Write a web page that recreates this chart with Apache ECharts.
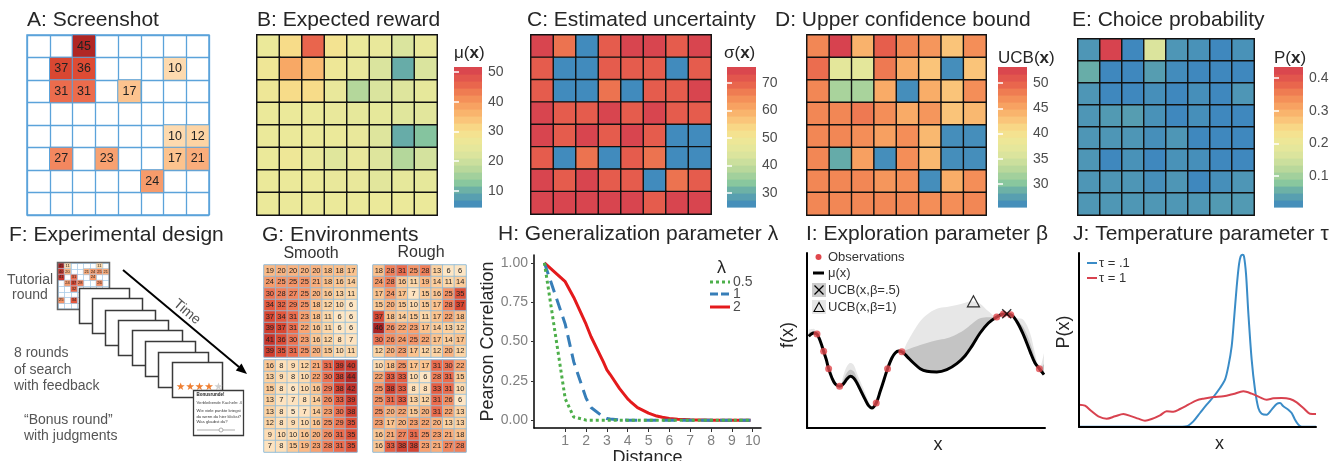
<!DOCTYPE html>
<html>
<head>
<meta charset="utf-8">
<script src="https://cdn.jsdelivr.net/npm/echarts@6.0.0/dist/echarts.min.js"></script>
<style>html,body{margin:0;padding:0;background:#fff;}#chart{width:1334px;height:461px;}</style>
</head>
<body>
<div id="chart"></div>
<script>
// ================= DATA =================
const gridCats = ['1','2','3','4','5','6','7','8'];
// A: revealed tiles [row, col, reward]
const screenshotTiles = [[0,2,45],[1,1,37],[1,2,36],[1,6,10],[2,1,31],[2,2,31],[2,4,17],[4,6,10],[4,7,12],[5,1,27],[5,3,23],[5,6,17],[5,7,21],[6,5,24]];
// B: expected reward mu(x)
const expectedReward = [
  [26,31,46,29,26,25.5,22,25.5],
  [27.5,38,35.5,27,25.5,22,10,22],
  [27,31,31,25.5,17,22,23,25],
  [26,26,26,25.5,25,25,23.5,24],
  [26,26,26,26,25.5,23,10,12.5],
  [26,27,25.5,23.5,25.5,23,17,21],
  [26,26,26,25.5,25.5,24,25,25],
  [26,26,26,26,26,26,26,26]];
// C: estimated uncertainty sigma(x)
const uncertainty = [
  [75,68,25.5,71,75,75,71,75],
  [71,25.5,25.5,71,71,71,25.5,71],
  [71,25.5,25.5,68,25.5,71,71,75],
  [75,71,71,75,71,75,71,71],
  [75,71,75,71,75,71,25.5,25.5],
  [71,25.5,68,25.5,71,68,25.5,25.5],
  [75,71,75,71,71,25.5,68,71],
  [75,75,75,75,75,71,75,75]];
// D: upper confidence bound
const ucbValues = [
  [47.6,53,44.3,50.4,47.6,46.5,42.9,47.1],
  [49.3,37.1,37.1,48.5,44.7,42.9,26,42.9],
  [47.6,32.1,32.1,44.9,26,44.7,42.9,47.1],
  [47.6,47.6,48.5,47.1,44.9,46.5,42.9,43.8],
  [47.6,47.6,47.1,45.7,47.1,43.8,26,26],
  [47.6,28.5,45.7,26,47.1,43.8,26,26],
  [47.6,47.6,47.6,46.5,47.1,26,44.7,47.1],
  [47.6,47.6,47.6,47.6,47.6,47.1,47.1,47.6]];
// E: choice probability
const choiceProb = [
  [0.025,0.43,0.007,0.165,0.025,0.02,0.007,0.02],
  [0.055,0.007,0.007,0.035,0.012,0.007,0.007,0.007],
  [0.025,0.007,0.007,0.016,0.007,0.016,0.007,0.025],
  [0.025,0.03,0.035,0.02,0.007,0.016,0.007,0.007],
  [0.025,0.025,0.025,0.016,0.025,0.007,0.007,0.007],
  [0.025,0.007,0.02,0.007,0.02,0.016,0.007,0.007],
  [0.025,0.025,0.025,0.016,0.025,0.007,0.016,0.025],
  [0.027,0.027,0.027,0.027,0.027,0.027,0.03,0.03]];
// colour-bar ranges and ticks
const rangeB = [4.6, 51.7], ticksB = [10,20,30,40,50];
const rangeC = [24.9, 75.8], ticksC = [30,40,50,60,70];
const rangeD = [25.4, 53.2], ticksD = [30,35,40,45,50];
const rangeE = [0.005, 0.434], ticksE = [0.1,0.2,0.3,0.4];
// F: tutorial thumbnail tiles [row, col, reward]
const tutorialTiles = [[0,0,45],[0,1,11],[0,6,11],[1,0,40],[1,1,20],[1,4,21],[1,5,24],[1,6,25],[1,7,21],[2,0,41],[2,2,31],[2,5,24],[3,1,24],[3,2,37],[3,3,28],[3,6,26],[4,2,32],[6,0,25],[6,2,34]];
// G: environments
const smoothEnv1 = [
  [19,20,20,20,20,18,18,17],[24,25,25,25,21,18,16,14],[30,28,27,25,20,16,13,11],[34,32,29,25,18,12,10,6],
  [37,34,31,23,18,11,6,6],[39,37,31,22,16,11,6,6],[41,36,30,23,16,12,8,7],[39,35,31,25,20,15,10,11]];
const roughEnv1 = [
  [18,28,31,25,28,13,6,6],[24,28,16,11,19,14,11,14],[17,24,17,7,15,16,25,35],[15,20,15,10,15,17,28,37],
  [37,18,14,15,11,17,22,18],[46,26,22,23,17,14,13,12],[30,26,24,25,22,17,14,17],[12,20,23,17,12,12,20,12]];
const smoothEnv2 = [
  [16,8,9,12,21,31,39,40],[13,9,8,10,22,30,38,44],[15,8,6,10,16,29,38,42],[13,7,7,8,14,26,33,39],
  [13,8,5,7,14,23,30,38],[12,8,9,10,16,25,29,35],[9,10,10,16,20,26,31,35],[7,8,15,19,23,28,31,35]];
const roughEnv2 = [
  [10,18,25,17,17,31,30,22],[22,33,33,10,6,28,31,15],[25,38,33,8,8,33,31,10],[25,31,33,13,12,31,26,6],
  [25,20,22,15,20,31,22,13],[23,17,20,23,22,20,13,13],[16,21,27,31,25,23,21,18],[16,33,38,38,23,21,27,28]];
// H: generalization
const distance = [0,1,1.41,2,2.24,2.83,3,3.16,3.61,4,4.12,4.47,5,5.39,5.66,6,6.4,6.71,7,7.28,7.62,8.06,8.49,8.6,9.22,9.9];
const corrLambda05 = [1,0.135,0.02,0,0,0,0,0,0,0,0,0,0,0,0,0,0,0,0,0,0,0,0,0,0,0];
const corrLambda1 = [1,0.61,0.37,0.14,0.08,0.02,0.01,0.007,0.002,0,0,0,0,0,0,0,0,0,0,0,0,0,0,0,0,0];
const corrLambda2 = [1,0.88,0.78,0.61,0.53,0.37,0.32,0.29,0.2,0.135,0.12,0.08,0.045,0.026,0.018,0.011,0.006,0.004,0.002,0.001,0.001,0,0,0,0,0];
const distTicks = [1,2,3,4,5,6,7,8,9,10];
const corrTicks = [0,0.25,0.5,0.75,1];
// I: exploration (arbitrary units)
const gpX =    [5,20,30,40,50,58,65,75,85,98,110,120,130,140,150,160,175,185,195,208,220,232,242,255,265,275,285,300,320,340,360,390,420,450,475,495,520,545,570,590,612,630,650,670,685,698,712];
const gpMu =   [275,285,282,260,230,205,178,150,132,125,133,147,155,150,135,115,85,67,60,75,110,147,178,210,225,231,229,215,195,178,170,168,175,193,217,245,285,315,333,342,340,320,280,230,195,178,160];
const gpUcb1 = [295,298,282,264,230,207,178,155,137,125,160,185,195,190,165,140,105,80,65,75,113,149,178,214,228,232,229,255,290,320,340,358,363,369,376,380,373,350,333,342,340,330,325,285,225,178,225];
const gpUcb05 =[285,291,282,262,230,206,178,152,134,125,146,166,175,170,150,128,95,73,62,75,111,148,178,212,226,231,229,235,242,249,255,263,269,281,296,312,329,332,333,342,340,325,302,257,210,178,192];
const obsX = [30,50,65,98,208,242,285,570,590,612,698];
const obsY = [282,230,178,125,75,178,229,333,342,340,178];
const ucb1Max = [500,380];
const ucb05Max = [600,343];
// J: temperature (arbitrary units)
const tau01X = [0,40,80,120,160,200,240,270,295,310,323,343,363,383,403,423,438,448,458,465,473,480,485,491,495,501,508,518,528,538,548,563,578,593,603,613,628,638,648,658,668,680,695,711];
const tau01Y = [1,1,1,1,1,1,1,1,1,1,2,17,42,67,90,117,142,182,242,322,420,488,512,517,512,460,342,202,112,57,40,37,52,69,72,62,52,42,22,7,1,1,1,1];
const tau1X = [0,18,38,58,83,108,133,158,178,198,218,243,263,283,303,328,353,373,403,433,463,493,518,543,563,583,608,633,653,673,693,711];
const tau1Y = [67,64,47,32,25,32,39,32,25,19,24,35,47,46,54,67,80,85,90,92,99,107,100,89,82,86,87,84,74,57,40,39];

// ================= HELPERS =================
const FONT = '"Liberation Sans", Arial, Helvetica, sans-serif';
const PAL = [[0,'#3d87bf'],[0.11,'#64aaa9'],[0.18,'#8cc99d'],[0.265,'#b5d79b'],[0.36,'#d8e39e'],[0.456,'#ebe99a'],[0.55,'#f7e08c'],[0.62,'#fac77b'],[0.695,'#f9ad68'],[0.79,'#f38b56'],[0.885,'#e8624c'],[1,'#d6404f']];
const ORRD = [[0,'#fff1dc'],[6,'#fee6c4'],[12,'#fdd4a4'],[18,'#fcbf8a'],[24,'#f79b6b'],[30,'#ef7352'],[36,'#de4b34'],[42,'#c1302a'],[48,'#9e1d1f']];
function hex2rgb(h){return [1,3,5].map(i=>parseInt(h.substr(i,2),16));}
function ramp(stops, v){
  if (v <= stops[0][0]) return stops[0][1];
  for (let i = 1; i < stops.length; i++) {
    if (v <= stops[i][0]) {
      const a = stops[i-1][0], b = stops[i][0];
      const f = (v - a) / (b - a);
      const x = hex2rgb(stops[i-1][1]), y = hex2rgb(stops[i][1]);
      return 'rgb(' + x.map((c,k)=>Math.round(c + (y[k]-c)*f)).join(',') + ')';
    }
  }
  return stops[stops.length-1][1];
}
const spectral = (r) => (v) => ramp(PAL, (v - r[0]) / (r[1] - r[0]));
const orrd = (v) => ramp(ORRD, v);

const grids = [], xAxes = [], yAxes = [], series = [], gfx = [];
function addGrid(g){ grids.push(Object.assign({outerBoundsMode:'none', containLabel:false}, g)); return grids.length - 1; }
function addX(a){ xAxes.push(a); return xAxes.length - 1; }
function addY(a){ yAxes.push(a); return yAxes.length - 1; }

function heatPanel(box, data, opt) {
  const gi = addGrid({left:box[0], top:box[1], width:box[2], height:box[3], show:true, borderColor:opt.border, borderWidth:opt.borderW, backgroundColor:'#fff'});
  const catAxis = {gridIndex:gi, type:'category', data:gridCats, axisLine:{show:false}, axisTick:{show:false}, axisLabel:{show:false},
    splitLine:{show:!!opt.split, interval:0, lineStyle:{color:opt.split || '#000', width:opt.splitW || 1}}};
  const xi = addX(Object.assign({}, catAxis));
  const yi = addY(Object.assign({inverse:true}, catAxis));
  series.push({type:'heatmap', xAxisIndex:xi, yAxisIndex:yi, data, silent:true,
    itemStyle:{borderColor:opt.cellBorder, borderWidth:opt.cellBorderW},
    label: opt.label ? {show:true, formatter:p=>p.value[2], fontSize:opt.label, color:'#222', fontFamily:FONT} : {show:false},
    z: opt.z || 2});
}
function matrixData(mat, colorFn){
  const out = [];
  mat.forEach((row, r) => row.forEach((v, c) => out.push({value:[c, r, v], itemStyle:{color:colorFn(v)}})));
  return out;
}
function tileData(tiles, colorFn){
  return tiles.map(t => ({value:[t[1], t[0], t[2]], itemStyle:{color:colorFn(t[2])}}));
}
function colorbar(box, range, ticks, fmt){
  const gi = addGrid({left:box[0], top:box[1], width:box[2], height:box[3]});
  const xi = addX({type:'value', gridIndex:gi, min:0, max:1, show:false});
  const tick = {show:true, inside:true, length:5, customValues:ticks, lineStyle:{color:'#fff', width:1.5}};
  const yr = addY({type:'value', gridIndex:gi, min:range[0], max:range[1], position:'right', z:5,
    axisLine:{show:false}, splitLine:{show:false}, axisTick:tick,
    axisLabel:{customValues:ticks, formatter:fmt, margin:6, fontSize:14, color:'#4d4d4d', fontFamily:FONT}});
  addY({type:'value', gridIndex:gi, min:range[0], max:range[1], position:'left', z:5,
    axisLine:{show:false}, splitLine:{show:false}, axisLabel:{show:false}, axisTick:tick});
  const n = 20, step = (range[1]-range[0]) / n, bands = [], cols = [], cf = spectral(range);
  for (let k = 0; k < n; k++) { const lo = range[0] + k*step; bands.push([lo, lo + step]); cols.push(cf(lo + step/2)); }
  series.push({type:'custom', xAxisIndex:xi, yAxisIndex:yr, data:bands, silent:true, z:1,
    renderItem:(params, api) => {
      const a = api.coord([0, api.value(1)]), b = api.coord([1, api.value(0)]);
      return {type:'rect', shape:{x:a[0], y:a[1], width:b[0]-a[0], height:b[1]-a[1]+0.6}, style:{fill:cols[params.dataIndex]}};
    }});
}
function txt(x, y, s, size, o){
  o = o || {};
  return {type:'text', x, y, z:o.z || 40, rotation:o.rot || 0,
    style:{text:s, font:(o.weight || 'normal') + ' ' + size + 'px ' + FONT, fill:o.color || '#262626', align:o.align || 'left', verticalAlign:'middle'}};
}
function richTitle(x, y, pre, post){
  return {type:'text', x, y, z:40, style:{text:'{n|' + pre + '(}{b|x}{n|' + post + ')}', verticalAlign:'middle', fill:'#262626',
    rich:{n:{fontSize:17, fontFamily:FONT, fill:'#262626'}, b:{fontSize:17, fontWeight:'bold', fontFamily:FONT, fill:'#262626'}}}};
}

// ================= ROW 1 =================
heatPanel([27,35,182,180], tileData(screenshotTiles, orrd), {border:'#5ba3da', borderW:1.5, split:'#5ba3da', splitW:1.3, cellBorder:'#5ba3da', cellBorderW:1, label:12.5});
heatPanel([257,35,180,180], matrixData(expectedReward, spectral(rangeB)), {border:'#333', borderW:1.5, cellBorder:'#111', cellBorderW:1.4});
colorbar([454,67,28,140], rangeB, ticksB, v => String(v));
heatPanel([531,35,180,179], matrixData(uncertainty, spectral(rangeC)), {border:'#333', borderW:1.5, cellBorder:'#111', cellBorderW:1.4});
colorbar([727,67,29,140], rangeC, ticksC, v => String(v));
heatPanel([807,35,179,180], matrixData(ucbValues, spectral(rangeD)), {border:'#333', borderW:1.5, cellBorder:'#111', cellBorderW:1.4});
colorbar([998,67,29,140], rangeD, ticksD, v => String(v));
heatPanel([1078,39,176,176], matrixData(choiceProb, spectral(rangeE)), {border:'#333', borderW:1.5, cellBorder:'#111', cellBorderW:1.4});
colorbar([1274,67,29,140], rangeE, ticksE, v => v.toFixed(1));

// ================= F thumbnail & G =================
heatPanel([58,263,51,46], tileData(tutorialTiles, orrd), {border:'#9cc6e4', borderW:1, split:'#a9cde8', splitW:0.8, cellBorder:'#a9cde8', cellBorderW:0.6, label:4});
heatPanel([264,265,93,92], matrixData(smoothEnv1, orrd), {border:'#8fbcdc', borderW:1, cellBorder:'#8fbcdc', cellBorderW:0.8, label:7.5});
heatPanel([373,265,93,92], matrixData(roughEnv1, orrd), {border:'#8fbcdc', borderW:1, cellBorder:'#8fbcdc', cellBorderW:0.8, label:7.5});
heatPanel([264,360,93,92], matrixData(smoothEnv2, orrd), {border:'#8fbcdc', borderW:1, cellBorder:'#8fbcdc', cellBorderW:0.8, label:7.5});
heatPanel([373,360,93,92], matrixData(roughEnv2, orrd), {border:'#8fbcdc', borderW:1, cellBorder:'#8fbcdc', cellBorderW:0.8, label:7.5});

// ================= H =================
{
  const gi = addGrid({left:534, top:255, width:227, height:173});
  const xi = addX({type:'value', gridIndex:gi, min:-0.5, max:10.4, z:5,
    axisLine:{show:true, onZero:false, lineStyle:{color:'#000', width:1.5}},
    axisTick:{show:true, length:4, customValues:distTicks, lineStyle:{color:'#333'}},
    axisLabel:{customValues:distTicks, color:'#808080', fontSize:14, margin:6, fontFamily:FONT},
    splitLine:{show:false}, name:'Distance', nameLocation:'middle', nameGap:18,
    nameTextStyle:{fontSize:18, color:'#262626', fontFamily:FONT}});
  const yi = addY({type:'value', gridIndex:gi, min:-0.05, max:1.05, z:5,
    axisLine:{show:true, onZero:false, lineStyle:{color:'#000', width:1.5}},
    axisTick:{show:true, length:3, customValues:corrTicks, lineStyle:{color:'#333'}},
    axisLabel:{customValues:corrTicks, formatter:v=>v.toFixed(2), color:'#808080', fontSize:14, margin:6, fontFamily:FONT},
    splitLine:{show:false}, name:'Pearson Correlation', nameLocation:'middle', nameGap:36, nameRotate:90,
    nameTextStyle:{fontSize:18, color:'#262626', fontFamily:FONT}});
  const mk = (ys, color, type) => ({type:'line', xAxisIndex:xi, yAxisIndex:yi, data:distance.map((d,i)=>[d, ys[i]]), symbol:'none', silent:true,
    lineStyle:{color, width:3, type}});
  series.push(mk(corrLambda2, '#e41a1c', 'solid'));
  series.push(mk(corrLambda1, '#377eb8', [12,7]));
  series.push(mk(corrLambda05, '#4daf4a', [3,3]));
}

// ================= I =================
{
  const gi = addGrid({left:807, top:253, width:238, height:175});
  const xi = addX({type:'value', gridIndex:gi, min:0, max:715, z:5,
    axisLine:{show:true, onZero:false, lineStyle:{color:'#000', width:2}}, axisTick:{show:false}, axisLabel:{show:false}, splitLine:{show:false},
    name:'x', nameLocation:'middle', nameGap:8, nameTextStyle:{fontSize:18, color:'#262626', fontFamily:FONT, padding:[0,0,0,24]}});
  const yi = addY({type:'value', gridIndex:gi, min:0, max:525, z:5,
    axisLine:{show:true, onZero:false, lineStyle:{color:'#000', width:2}}, axisTick:{show:false}, axisLabel:{show:false}, splitLine:{show:false},
    name:'f(x)', nameLocation:'middle', nameGap:10, nameRotate:90, nameTextStyle:{fontSize:18, color:'#262626', fontFamily:FONT, padding:[0,0,0,11]}});
  const area = (ys, fill, line) => ({type:'line', xAxisIndex:xi, yAxisIndex:yi, data:gpX.map((x,i)=>[x, ys[i]]), symbol:'none', silent:true,
    smooth:0.35, areaStyle:{color:fill, opacity:1}, lineStyle:line || {width:0}});
  series.push(area(gpUcb1, '#e7e7e7'));
  series.push(area(gpUcb05, '#c4c4c4'));
  series.push(area(gpMu, '#ffffff', {color:'#000', width:3}));
  series.push({type:'scatter', xAxisIndex:xi, yAxisIndex:yi, data:obsX.map((x,i)=>[x, obsY[i]]), symbolSize:7, silent:true, itemStyle:{color:'#e0474c'}, z:4});
  series.push({type:'scatter', xAxisIndex:xi, yAxisIndex:yi, data:[ucb1Max], symbol:'triangle', symbolSize:[12,11], silent:true,
    itemStyle:{color:'none', borderColor:'#000', borderWidth:1.2}, z:4});
  series.push({type:'scatter', xAxisIndex:xi, yAxisIndex:yi, data:[ucb05Max], symbol:'path://M0,0L10,10M10,0L0,10', symbolSize:9, silent:true,
    itemStyle:{color:'none', borderColor:'#000', borderWidth:1.4}, z:4});
}

// ================= J =================
{
  const gi = addGrid({left:1079, top:253, width:237, height:174});
  const xi = addX({type:'value', gridIndex:gi, min:0, max:711, z:5,
    axisLine:{show:true, onZero:false, lineStyle:{color:'#000', width:2}}, axisTick:{show:false}, axisLabel:{show:false}, splitLine:{show:false},
    name:'x', nameLocation:'middle', nameGap:8, nameTextStyle:{fontSize:18, color:'#262626', fontFamily:FONT, padding:[0,0,0,44]}});
  const yi = addY({type:'value', gridIndex:gi, min:0, max:522, z:5,
    axisLine:{show:true, onZero:false, lineStyle:{color:'#000', width:2}}, axisTick:{show:false}, axisLabel:{show:false}, splitLine:{show:false},
    name:'P(x)', nameLocation:'middle', nameGap:6, nameRotate:90, nameTextStyle:{fontSize:18, color:'#262626', fontFamily:FONT, padding:[0,0,0,16]}});
  series.push({type:'line', xAxisIndex:xi, yAxisIndex:yi, data:tau01X.map((x,i)=>[x, tau01Y[i]]), symbol:'none', smooth:0.3, silent:true, lineStyle:{color:'#3a8cc7', width:2}});
  series.push({type:'line', xAxisIndex:xi, yAxisIndex:yi, data:tau1X.map((x,i)=>[x, tau1Y[i]]), symbol:'none', smooth:0.3, silent:true, lineStyle:{color:'#d8424f', width:2}});
}

// ================= TEXT / DECORATION =================
[['A: Screenshot',27,20],['B: Expected reward',257,20],['C: Estimated uncertainty',527,20],['D: Upper confidence bound',775,20],['E: Choice probability',1072,20],
 ['F: Experimental design',9,235],['G: Environments',262,235],['H: Generalization parameter λ',498,234],['I: Exploration parameter β',806,234],['J: Temperature parameter τ',1073,234]]
 .forEach(t => gfx.push(txt(t[1], t[2], t[0], 21)));
gfx.push(richTitle(454,53,'μ',''), richTitle(724,53,'σ',''), richTitle(998,58,'UCB',''), richTitle(1274,58,'P',''));

// F: schematic
gfx.push({type:'rect', z:6, shape:{x:57.5, y:262.5, width:52, height:47}, style:{fill:'none', stroke:'#666', lineWidth:1.5}});
const cardL = [79,92,105,118,132,145,158,172], cardT = [288,298,310,320,330,341,352,362];
cardL.forEach((l,i) => gfx.push({type:'rect', z:10+i, shape:{x:l+0.5, y:cardT[i]+0.5, width:50, height:35}, style:{fill:'#fff', stroke:'#3a3a3a', lineWidth:1.5}}));
gfx.push({type:'text', x:176, y:387, z:25, style:{text:'{o|★★★★}{g|★}', verticalAlign:'middle',
  rich:{o:{fontSize:10.5, fill:'#ef7f32', fontFamily:'DejaVu Sans'}, g:{fontSize:10.5, fill:'#cfcfcf', fontFamily:'DejaVu Sans'}}}});
gfx.push({type:'rect', z:30, shape:{x:193.5, y:390.5, width:50, height:45}, style:{fill:'#fff', stroke:'#3a3a3a', lineWidth:1.3}});
gfx.push(txt(196.5,395,'Bonusrunde!',4.5,{weight:'bold', z:31, color:'#222'}));
gfx.push(txt(196.5,402.5,'Verbleibende Kacheln: 4',4.2,{z:31, color:'#444'}));
gfx.push(txt(196.5,411,'Wie viele punkte kriegst',4.2,{z:31, color:'#333'}));
gfx.push(txt(196.5,416.5,'du wenn du hier klickst?',4.2,{z:31, color:'#333'}));
gfx.push(txt(196.5,422,'Was glaubst du?',4.2,{z:31, color:'#333'}));
gfx.push({type:'line', z:31, shape:{x1:197, y1:430, x2:235, y2:430}, style:{stroke:'#c8c8c8', lineWidth:1.5}});
gfx.push({type:'circle', z:32, shape:{cx:221, cy:430, r:2}, style:{fill:'#fff', stroke:'#999', lineWidth:0.8}});
gfx.push({type:'line', z:20, shape:{x1:123, y1:270, x2:239, y2:367}, style:{stroke:'#000', lineWidth:2}});
gfx.push({type:'polygon', z:20, shape:{points:[[247,374],[235.8,370.5],[241.5,363.5]]}, style:{fill:'#000'}});
gfx.push(txt(187,312,'Time',14,{align:'center', rot:-0.70, color:'#555'}));
gfx.push(txt(30,280,'Tutorial',14,{align:'center', color:'#555'}));
gfx.push(txt(30,295,'round',14,{align:'center', color:'#555'}));
gfx.push(txt(14,353,'8 rounds',14,{color:'#555'}));
gfx.push(txt(14,370,'of search',14,{color:'#555'}));
gfx.push(txt(14,386,'with feedback',14,{color:'#555'}));
gfx.push(txt(24,420,'“Bonus round”',14,{color:'#555'}));
gfx.push(txt(24,436,'with judgments',14,{color:'#555'}));
// G labels
gfx.push(txt(311,254,'Smooth',16,{align:'center', color:'#333'}));
gfx.push(txt(421,253,'Rough',16,{align:'center', color:'#333'}));
// H legend
gfx.push(txt(717,268,'λ',18,{color:'#262626'}));
[['0.5','#4daf4a',[3,3],282],['1','#377eb8',[8,3],294],['2','#e41a1c',null,307]].forEach(l => {
  gfx.push({type:'line', z:20, shape:{x1:710, y1:l[3], x2:730, y2:l[3]}, style:{stroke:l[1], lineWidth:3, lineDash:l[2]}});
  gfx.push(txt(733, l[3], l[0], 14, {color:'#4d4d4d'}));
});
// I legend
gfx.push({type:'circle', z:20, shape:{cx:818.5, cy:257, r:3}, style:{fill:'#e0474c'}});
gfx.push(txt(828,257,'Observations',13,{color:'#333'}));
gfx.push({type:'line', z:20, shape:{x1:813, y1:273, x2:824, y2:273}, style:{stroke:'#000', lineWidth:3}});
gfx.push(txt(828,273,'μ(x)',13,{color:'#333'}));
gfx.push({type:'rect', z:20, shape:{x:812, y:283, width:14, height:14}, style:{fill:'#cccccc'}});
gfx.push({type:'line', z:21, shape:{x1:814.5, y1:285.5, x2:823.5, y2:294.5}, style:{stroke:'#000', lineWidth:1.2}});
gfx.push({type:'line', z:21, shape:{x1:823.5, y1:285.5, x2:814.5, y2:294.5}, style:{stroke:'#000', lineWidth:1.2}});
gfx.push(txt(828,290,'UCB(x,β=.5)',13,{color:'#333'}));
gfx.push({type:'rect', z:20, shape:{x:812, y:300, width:14, height:14}, style:{fill:'#e6e6e6'}});
gfx.push({type:'polygon', z:21, shape:{points:[[819,302.5],[814,311.5],[824,311.5]]}, style:{fill:'none', stroke:'#000', lineWidth:1.1}});
gfx.push(txt(828,307,'UCB(x,β=1)',13,{color:'#333'}));
// J legend
gfx.push({type:'line', z:20, shape:{x1:1087, y1:263, x2:1097, y2:263}, style:{stroke:'#3a8cc7', lineWidth:2}});
gfx.push(txt(1099,263,'τ = .1',13,{color:'#333'}));
gfx.push({type:'line', z:20, shape:{x1:1087, y1:278, x2:1097, y2:278}, style:{stroke:'#d8424f', lineWidth:2}});
gfx.push(txt(1099,278,'τ = 1',13,{color:'#333'}));

const chart = echarts.init(document.getElementById('chart'), null, {renderer:'canvas'});
chart.setOption({animation:false, backgroundColor:'#fff', textStyle:{fontFamily:FONT},
  grid:grids, xAxis:xAxes, yAxis:yAxes, series, graphic:{elements:gfx}});
</script>
</body>
</html>
